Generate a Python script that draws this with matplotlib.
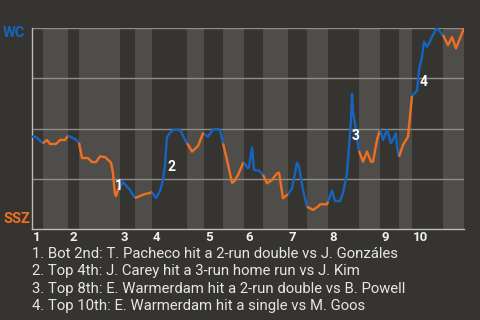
import numpy as np
import matplotlib.pyplot as plt

plt.rcParams['font.family'] = ['Roboto', 'DejaVu Sans']

# win probability for WC (0 = SSZ wins, 100 = WC wins), by play position
play = [0, 4, 11, 15, 18, 24, 28, 33, 36, 43, 47, 50, 52, 56, 60, 64, 68, 73, 79, 81,
        82, 83, 84, 86, 91, 98, 103, 108, 113, 118, 120, 124, 128, 131, 133, 134, 135,
        139, 141, 148, 154, 156, 160, 166, 171, 176, 181, 188, 191, 195, 200, 202, 206,
        211, 212, 216, 217, 220, 222, 227, 231, 235, 240, 245, 247, 251, 256, 260, 265,
        267, 271, 275, 281, 286, 288, 295, 300, 303, 308, 311, 315, 317, 319, 320, 321,
        323, 325, 327, 331, 335, 339, 341, 345, 348, 351, 355, 359, 364, 365, 367, 371,
        376, 378, 380, 385, 387, 390, 392, 395, 397, 400, 404, 406, 411, 416, 420, 424,
        428, 432]
wp = [45.9, 45.8, 42.6, 44.3, 42.3, 42.3, 44.3, 44.3, 46.4, 44.8, 42.9, 35.3, 35.3, 35.3,
      33.3, 33.3, 36.1, 35.8, 33.0, 27.9, 21.9, 17.4, 16.4, 19.4, 23.4, 19.4, 15.4, 16.4,
      17.4, 17.9, 18.4, 15.4, 18.9, 24.4, 31.8, 39.3, 45.9, 48.4, 49.3, 49.3, 43.4, 42.0,
      38.5, 41.3, 47.6, 45.9, 49.6, 49.6, 42.6, 34.3, 23.0, 23.5, 26.9, 32.7, 33.0, 30.2,
      31.0, 40.6, 29.4, 29.0, 26.9, 22.7, 24.4, 27.7, 28.0, 15.3, 17.4, 20.2, 33.0, 31.0,
      19.4, 11.1, 9.5, 11.1, 12.3, 12.3, 19.1, 13.9, 13.9, 17.8, 27.7, 40.9, 54.2, 67.2,
      58.4, 52.6, 44.3, 38.8, 33.5, 38.5, 33.5, 33.5, 44.3, 49.6, 44.3, 49.3, 42.6, 47.6,
      40.9, 36.0, 41.8, 45.9, 55.9, 66.2, 68.8, 79.1, 85.7, 93.2, 90.7, 92.4, 95.7, 99.4,
      99.4, 96.5, 91.5, 95.4, 89.9, 94.9, 100.0]

# half-inning boundaries (top 1, bot 1, top 2, ...)
half_bounds = [0, 11, 36, 47, 88, 103, 120, 155, 172, 191, 212, 231, 256, 275, 296,
               327, 348, 367, 380, 411, 432]
innings = ['1', '2', '3', '4', '5', '6', '7', '8', '9', '10']

notes = ['1', '2', '3', '4']
note_x = [87, 140, 324, 392]
note_y = [21.4, 30.8, 46.3, 73.1]
captions = [
    '1. Bot 2nd: T. Pacheco hit a 2-run double vs J. Gonzáles',
    '2. Top 4th: J. Carey hit a 3-run home run vs J. Kim',
    '3. Top 8th: E. Warmerdam hit a 2-run double vs B. Powell',
    '4. Top 10th: E. Warmerdam hit a single vs M. Goos',
]

bg = '#363430'
band = '#4f4d4a'
blue = '#1565c0'
orange = '#f07020'

fig = plt.figure(figsize=(4.8, 3.2), dpi=100, facecolor=bg)
ax = fig.add_axes([32 / 480, 1 - 229 / 320, 432 / 480, 201 / 320])
ax.set_facecolor(bg)

play = np.array(play, float)
wp = np.array(wp, float)

for i in range(len(half_bounds) - 1):
    a, b = half_bounds[i], half_bounds[i + 1]
    if i % 2 == 1:
        ax.axvspan(a, b, color=band, lw=0, zorder=0)
    inside = (play > a) & (play < b)
    xs = np.concatenate([[a], play[inside], [b]])
    ys = np.concatenate([[np.interp(a, play, wp)], wp[inside], [np.interp(b, play, wp)]])
    ax.plot(xs, ys, color=blue if i % 2 == 0 else orange, lw=1.7, zorder=3,
            solid_capstyle='butt', solid_joinstyle='round')

for g in [25, 50, 75, 100]:
    ax.axhline(g, color='#8e8c88', lw=1, zorder=1)

for t, x, y in zip(notes, note_x, note_y):
    ax.text(x, y, t, color='white', fontsize=10, fontweight='bold',
            ha='center', va='center', zorder=4)

for lab, x in zip(innings, half_bounds[0::2]):
    ax.text(x + 1, -4.2, lab, color='#f0f0f0', fontsize=9.5, fontweight='bold',
            ha='left', va='center', clip_on=False)

ax.set_xlim(0, 432)
ax.set_ylim(0, 100)
ax.set_xticks([])
ax.set_yticks([])
for s in ['top', 'right']:
    ax.spines[s].set_visible(False)
for s in ['left', 'bottom']:
    ax.spines[s].set_color('#bdbcb8')
    ax.spines[s].set_linewidth(1)

fig.text(3 / 480, 1 - 33 / 320, 'WC', color=blue, fontsize=10.5, fontweight='bold',
         ha='left', va='center')
fig.text(3 / 480, 1 - 219 / 320, 'SSZ', color=orange, fontsize=10.5, fontweight='bold',
         ha='left', va='center')

for k, c in enumerate(captions):
    fig.text(32 / 480, 1 - (253.5 + k * 17.5) / 320, c, color='#e6e6e6', fontsize=10.7,
             ha='left', va='center')

fig.savefig('out.png', dpi=100, facecolor=bg)
